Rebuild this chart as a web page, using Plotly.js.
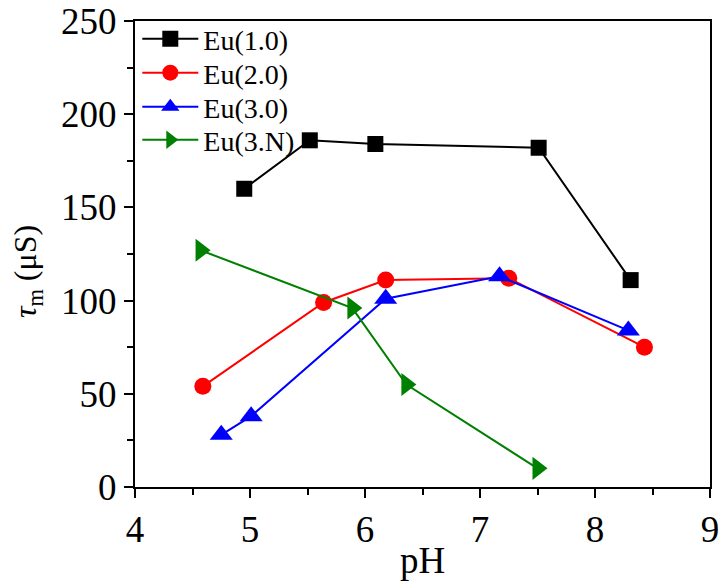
<!DOCTYPE html>
<html>
<head>
<meta charset="utf-8">
<script src="https://cdn.plot.ly/plotly-3.0.1.min.js"></script>
<style>html,body{margin:0;padding:0;background:#fff;}#chart{width:719px;height:581px;}</style>
</head>
<body>
<div id="chart"></div>
<script>
const names = ["Eu(1.0)", "Eu(2.0)", "Eu(3.0)", "Eu(3.N)"];
const x1 = [4.95, 5.52, 6.09, 7.51, 8.31];
const y1 = [160, 186, 184, 182, 111];
const x2 = [4.59, 5.64, 6.18, 7.25, 8.43];
const y2 = [54, 99, 111, 112, 75];
const x3 = [4.75, 5.01, 6.18, 7.17, 8.29];
const y3 = [28, 38, 101, 113, 84];
const x4 = [4.57, 5.89, 6.36, 7.50];
const y4 = [127, 96, 55, 10];
const xTicks = [4, 5, 6, 7, 8, 9];
const yTicks = [0, 50, 100, 150, 200, 250];

const colors = ["#000000", "#ff0000", "#0000ff", "#008000"];
const symbols = ["square", "circle", "triangle-up", "triangle-right"];
const sizes = [16, 17, 20, 20];
const xs = [x1, x2, x3, x4];
const ys = [y1, y2, y3, y4];
const legendIds = ["legend", "legend2", "legend3", "legend4"];

const traces = names.map((n, i) => ({
  x: xs[i], y: ys[i], name: n, type: "scatter", mode: "lines+markers",
  legend: legendIds[i],
  line: {color: colors[i], width: 2},
  marker: {color: colors[i], symbol: symbols[i], size: sizes[i]}
}));

const font = {family: "Liberation Serif, Times New Roman, serif", color: "#000"};
const plotTop = 21, plotBottom = 487, plotLeft = 135, plotRight = 710;
const legendRowsPx = [39, 73, 107, 140];

const layout = {
  width: 719, height: 581,
  margin: {l: plotLeft, r: 719 - plotRight, t: plotTop, b: 581 - plotBottom},
  paper_bgcolor: "#fff", plot_bgcolor: "#fff",
  showlegend: true,
  xaxis: {
    range: [4, 9], tickvals: xTicks, ticktext: xTicks.map(String),
    ticks: "outside", ticklen: 9, tickwidth: 2, tickcolor: "#000",
    ticklabeloverflow: "allow",
    minor: {dtick: 0.5, ticks: "outside", ticklen: 6, tickwidth: 2, tickcolor: "#000"},
    showline: true, linecolor: "#000", linewidth: 2, mirror: true,
    showgrid: false, zeroline: false,
    tickfont: Object.assign({}, font, {size: 37}),
    title: {text: "pH", font: Object.assign({}, font, {size: 37}), standoff: 0}
  },
  yaxis: {
    range: [0, 250], tickvals: yTicks, ticktext: yTicks.map(String),
    ticks: "outside", ticklen: 9, tickwidth: 2, tickcolor: "#000",
    ticklabeloverflow: "allow",
    minor: {dtick: 25, ticks: "outside", ticklen: 6, tickwidth: 2, tickcolor: "#000"},
    showline: true, linecolor: "#000", linewidth: 2, mirror: true,
    showgrid: false, zeroline: false,
    tickfont: Object.assign({}, font, {size: 37})
  },
  annotations: [{
    text: "<i>τ</i><sub>m</sub> (μS)", textangle: -90, showarrow: false,
    xref: "paper", yref: "paper",
    x: (27 - plotLeft) / (plotRight - plotLeft), y: (plotBottom - 272) / (plotBottom - plotTop),
    xanchor: "center", yanchor: "middle",
    font: Object.assign({}, font, {size: 32})
  }]
};
legendIds.forEach((id, i) => {
  layout[id] = {
    x: 0.004, y: (plotBottom - legendRowsPx[i]) / (plotBottom - plotTop),
    xanchor: "left", yanchor: "middle",
    font: Object.assign({}, font, {size: 28}),
    bgcolor: "rgba(0,0,0,0)", itemwidth: 56
  };
});
Plotly.newPlot("chart", traces, layout, {staticPlot: true});
</script>
</body>
</html>
